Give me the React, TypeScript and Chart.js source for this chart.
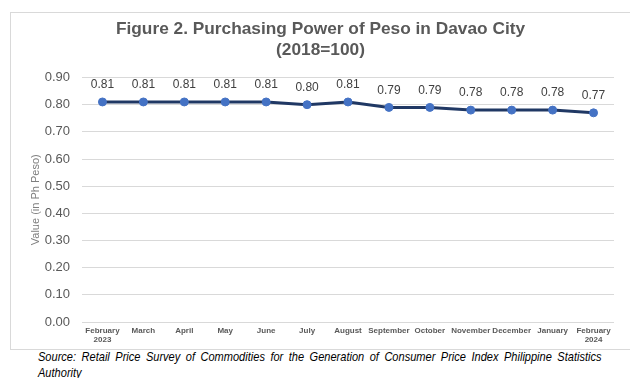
import React, { useEffect, useRef } from "react";
import { Chart, registerables } from "chart.js";

Chart.register(...registerables);

const categories: (string | string[])[] = [
  ["February", "2023"],
  "March",
  "April",
  "May",
  "June",
  "July",
  "August",
  "September",
  "October",
  "November",
  "December",
  "January",
  ["February", "2024"],
];
const values: number[] = [0.81, 0.81, 0.81, 0.81, 0.81, 0.8, 0.81, 0.79, 0.79, 0.78, 0.78, 0.78, 0.77];
const titleLines: string[] = ["Figure 2. Purchasing Power of Peso in Davao City", "(2018=100)"];
const yAxisTitle = "Value (in Ph Peso)";
const sourceText =
  "Source: Retail Price Survey of Commodities for the Generation of Consumer Price Index Philippine Statistics Authority";

const FONT = "'Liberation Sans', Arial, sans-serif";

const dataLabelPlugin = {
  id: "dataLabels",
  afterDatasetsDraw(chart: any) {
    const ctx = chart.ctx;
    const meta = chart.getDatasetMeta(0);
    ctx.save();
    ctx.font = `12px ${FONT}`;
    ctx.fillStyle = "#404040";
    ctx.textAlign = "center";
    ctx.textBaseline = "middle";
    meta.data.forEach((pt: any, i: number) => {
      const v = chart.data.datasets[0].data[i] as number;
      ctx.fillText(v.toFixed(2), pt.x, pt.y - 17);
    });
    ctx.restore();
  },
};

export default function App() {
  const ref = useRef<HTMLCanvasElement | null>(null);
  useEffect(() => {
    if (!ref.current) return;
    const chart = new Chart(ref.current, {
      type: "line",
      data: {
        labels: categories,
        datasets: [
          {
            data: values,
            borderColor: "#203864",
            borderWidth: 3,
            pointRadius: 4,
            pointBackgroundColor: "#4472C4",
            pointBorderColor: "#4472C4",
            pointBorderWidth: 1,
            tension: 0,
          },
        ],
      },
      options: {
        animation: false,
        responsive: false,
        maintainAspectRatio: false,
        layout: { padding: { left: 16, right: 16, top: 0, bottom: 0 } },
        plugins: {
          legend: { display: false },
          tooltip: { enabled: false },
          title: {
            display: true,
            text: titleLines,
            color: "#595959",
            font: { family: FONT, size: 17.3, weight: "bold", lineHeight: 1.2 },
            padding: { top: 6, bottom: 17 },
          },
        },
        scales: {
          x: {
            offset: true,
            grid: { display: false, drawTicks: false },
            border: { display: false },
            ticks: {
              color: "#595959",
              font: { family: FONT, size: 8, weight: "bold", lineHeight: 1.05 },
              padding: 5,
              maxRotation: 0,
              autoSkip: false,
            },
            afterFit(scale: any) {
              scale.height = 27;
            },
          },
          y: {
            min: 0,
            max: 0.9,
            grid: { color: "#d9d9d9", lineWidth: 1, drawTicks: false },
            border: { display: false },
            ticks: {
              stepSize: 0.1,
              color: "#595959",
              font: { family: FONT, size: 13 },
              padding: 12,
              callback: (v: any) => Number(v).toFixed(2),
            },
            title: {
              display: true,
              text: yAxisTitle,
              color: "#7f7f7f",
              font: { family: FONT, size: 11 },
              padding: { top: 2, bottom: 0 },
            },
            afterFit(scale: any) {
              scale.width = 55;
            },
          },
        },
      },
      plugins: [dataLabelPlugin],
    } as any);
    return () => chart.destroy();
  }, []);

  return (
    <div style={{ position: "relative", width: 622, height: 370 }}>
      <div
        style={{
          position: "absolute",
          left: 2,
          top: 4,
          width: 621,
          height: 338,
          border: "1px solid #d9d9d9",
          boxSizing: "border-box",
          background: "#fff",
        }}
      >
        <canvas ref={ref} width={619} height={336} style={{ display: "block" }} />
      </div>
      <div
        style={{
          position: "absolute",
          left: 30,
          top: 341,
          width: 663,
          fontFamily: FONT,
          fontStyle: "italic",
          fontSize: 13,
          lineHeight: "16px",
          textAlign: "justify",
          color: "#000",
          transform: "scaleX(0.85)",
          transformOrigin: "left top",
        }}
      >
        {sourceText}
      </div>
    </div>
  );
}
